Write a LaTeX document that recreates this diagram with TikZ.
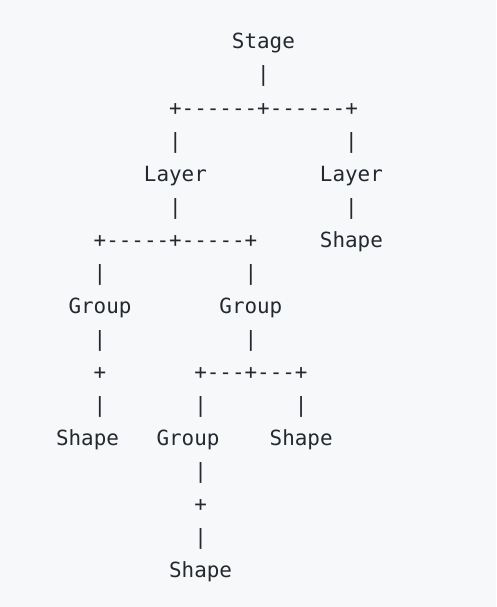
\documentclass[tikz,border=0pt]{standalone}
\usepackage{fontspec}
\setmonofont{DejaVu Sans Mono}
\definecolor{codebg}{HTML}{F6F8FA}
\definecolor{codefg}{HTML}{24292F}
% \tok{name}{line}{first column}{text}
\newcommand{\tok}[4]{%
  \node[codetext] (#1) at ({100+12.57*(#3)-6.285},{49+33*(#2)}) {#4};}
\begin{document}
\begin{tikzpicture}[x=1pt,y=-1pt,
  codetext/.style={anchor=base west,inner sep=0pt,outer sep=0pt,text=codefg,
    font=\ttfamily\fontsize{20.9}{25}\selectfont}]
\fill[codebg] (0,0) rectangle (496,607);
\useasboundingbox (0,0) rectangle (496,607);
\tok{stage}{0}{11}{Stage}
\tok{p1}{1}{13}{|}
\tok{bar1}{2}{6}{+------+------+}
\tok{p3a}{3}{6}{|}
\tok{p3b}{3}{20}{|}
\tok{layerA}{4}{4}{Layer}
\tok{layerB}{4}{18}{Layer}
\tok{p5a}{5}{6}{|}
\tok{p5b}{5}{20}{|}
\tok{bar2}{6}{0}{+-----+-----+}
\tok{shapeB}{6}{18}{Shape}
\tok{p7a}{7}{0}{|}
\tok{p7b}{7}{12}{|}
\tok{groupA}{8}{-2}{Group}
\tok{groupB}{8}{10}{Group}
\tok{p9a}{9}{0}{|}
\tok{p9b}{9}{12}{|}
\tok{plusA}{10}{0}{+}
\tok{bar3}{10}{8}{+---+---+}
\tok{p11a}{11}{0}{|}
\tok{p11b}{11}{8}{|}
\tok{p11c}{11}{16}{|}
\tok{shapeA}{12}{-3}{Shape}
\tok{groupC}{12}{5}{Group}
\tok{shapeC}{12}{14}{Shape}
\tok{p13}{13}{8}{|}
\tok{plusB}{14}{8}{+}
\tok{p15}{15}{8}{|}
\tok{shapeD}{16}{6}{Shape}
\end{tikzpicture}
\end{document}
